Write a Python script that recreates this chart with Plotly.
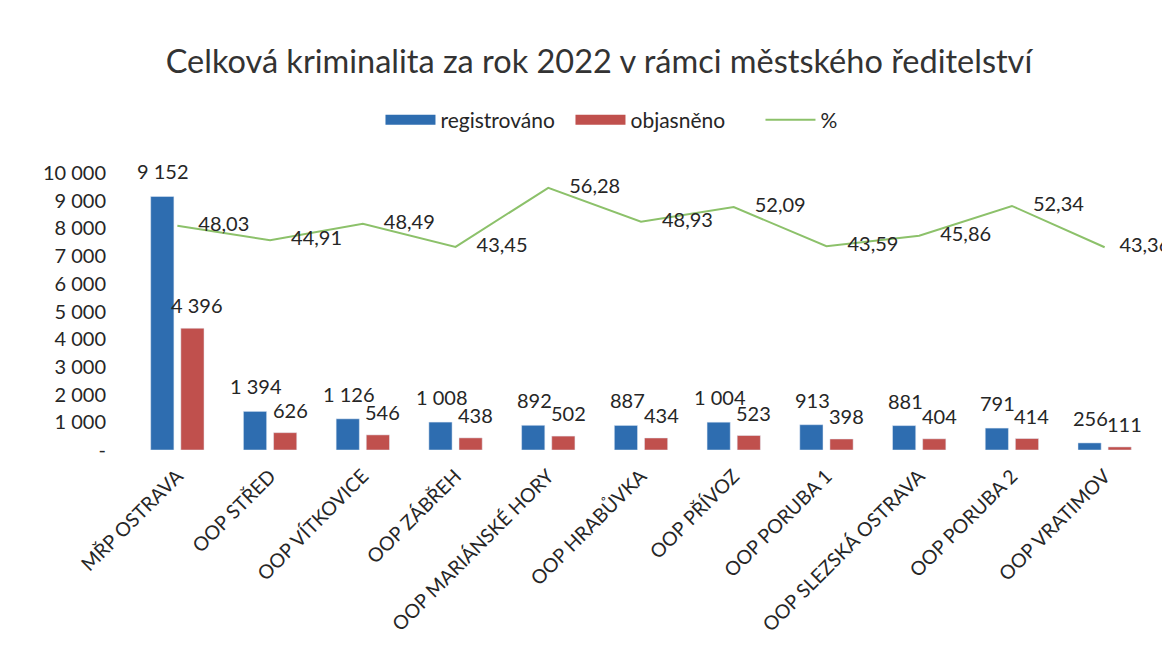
import plotly.graph_objects as go

categories = ["MŘP OSTRAVA", "OOP STŘED", "OOP VÍTKOVICE", "OOP ZÁBŘEH", "OOP MARIÁNSKÉ HORY",
              "OOP HRABŮVKA", "OOP PŘÍVOZ", "OOP PORUBA 1", "OOP SLEZSKÁ OSTRAVA", "OOP PORUBA 2",
              "OOP VRATIMOV"]
registrovano = [9152, 1394, 1126, 1008, 892, 887, 1004, 913, 881, 791, 256]
objasneno = [4396, 626, 546, 438, 502, 434, 523, 398, 404, 414, 111]
procenta = [48.03, 44.91, 48.49, 43.45, 56.28, 48.93, 52.09, 43.59, 45.86, 52.34, 43.36]
y_tickvals = [0, 1000, 2000, 3000, 4000, 5000, 6000, 7000, 8000, 9000, 10000]
y_ticktext = ["-", "1 000", "2 000", "3 000", "4 000", "5 000", "6 000", "7 000", "8 000", "9 000", "10 000"]

FONT = "Lato"
TXT = "#262626"
BLUE = "#2E6DB0"
RED = "#C0504D"
GREEN = "#8CC16A"

# invisible marker sizes only used to push the % labels right of the points
label_pad = [32] * (len(categories) - 1) + [22]


def fmt_int(v):
    return f"{v:,}".replace(",", " ")


fig = go.Figure()
fig.add_trace(go.Bar(x=categories, y=registrovano, name="registrováno",
                     marker=dict(color=BLUE), showlegend=False))
fig.add_trace(go.Bar(x=categories, y=objasneno, name="objasněno",
                     marker=dict(color=RED), showlegend=False))
fig.add_trace(go.Scatter(
    x=categories, y=procenta, name="%", yaxis="y2", mode="lines+markers+text",
    line=dict(color=GREEN, width=2),
    marker=dict(size=label_pad, opacity=0, color=GREEN),
    texttemplate="%{y:.2f}", textposition="middle right",
    textfont=dict(size=20, color=TXT, family=FONT), cliponaxis=False, showlegend=False,
))
# legend entries with wide swatches
fig.add_trace(go.Scatter(x=[None], y=[None], mode="lines", name="registrováno",
                         line=dict(color=BLUE, width=10)))
fig.add_trace(go.Scatter(x=[None], y=[None], mode="lines", name="objasněno",
                         line=dict(color=RED, width=10)))
fig.add_trace(go.Scatter(x=[None], y=[None], mode="lines", name="%",
                         line=dict(color=GREEN, width=2)))

annotations = []
for cat, r, o in zip(categories, registrovano, objasneno):
    annotations.append(dict(x=cat, y=r, xref="x", yref="y", text=fmt_int(r), showarrow=False,
                            xanchor="center", yanchor="bottom", xshift=-14, yshift=11,
                            font=dict(size=20, color=TXT, family=FONT)))
    annotations.append(dict(x=cat, y=o, xref="x", yref="y", text=fmt_int(o), showarrow=False,
                            xanchor="center", yanchor="bottom", xshift=20, yshift=9,
                            font=dict(size=20, color=TXT, family=FONT)))

fig.update_layout(
    width=1170, height=638,
    paper_bgcolor="white", plot_bgcolor="white",
    separators=", ",
    font=dict(family=FONT, color=TXT),
    margin=dict(l=123, r=27, t=165, b=196, autoexpand=False),
    title=dict(text="Celková kriminalita za rok 2022 v rámci městského ředitelství",
               x=0.5051, xref="container", y=0.9154, yref="container",
               xanchor="center", yanchor="middle",
               font=dict(size=32.5, color="#333333", family=FONT)),
    barmode="group", bargap=0.35, bargroupgap=0.23,
    showlegend=True,
    legend=dict(orientation="h", x=0.524, xanchor="center", y=1.191, yanchor="middle",
                font=dict(size=21, color=TXT, family=FONT), traceorder="normal",
                entrywidth=125, itemwidth=50, bgcolor="rgba(0,0,0,0)"),
    xaxis=dict(range=[-0.5, len(categories) - 0.5], tickangle=-45,
               tickfont=dict(size=19.5, color=TXT, family=FONT), ticklabelstandoff=10,
               showgrid=False, showline=False, ticks="", zeroline=False),
    yaxis=dict(range=[0, 10000], tickvals=y_tickvals, ticktext=y_ticktext,
               tickfont=dict(size=20, color=TXT, family=FONT), ticklabelstandoff=24,
               showgrid=False, zeroline=False, showline=False, ticks=""),
    yaxis2=dict(range=[-0.7, 59.5], overlaying="y", side="right", visible=False),
    annotations=annotations,
)

fig.write_html("out.html")
